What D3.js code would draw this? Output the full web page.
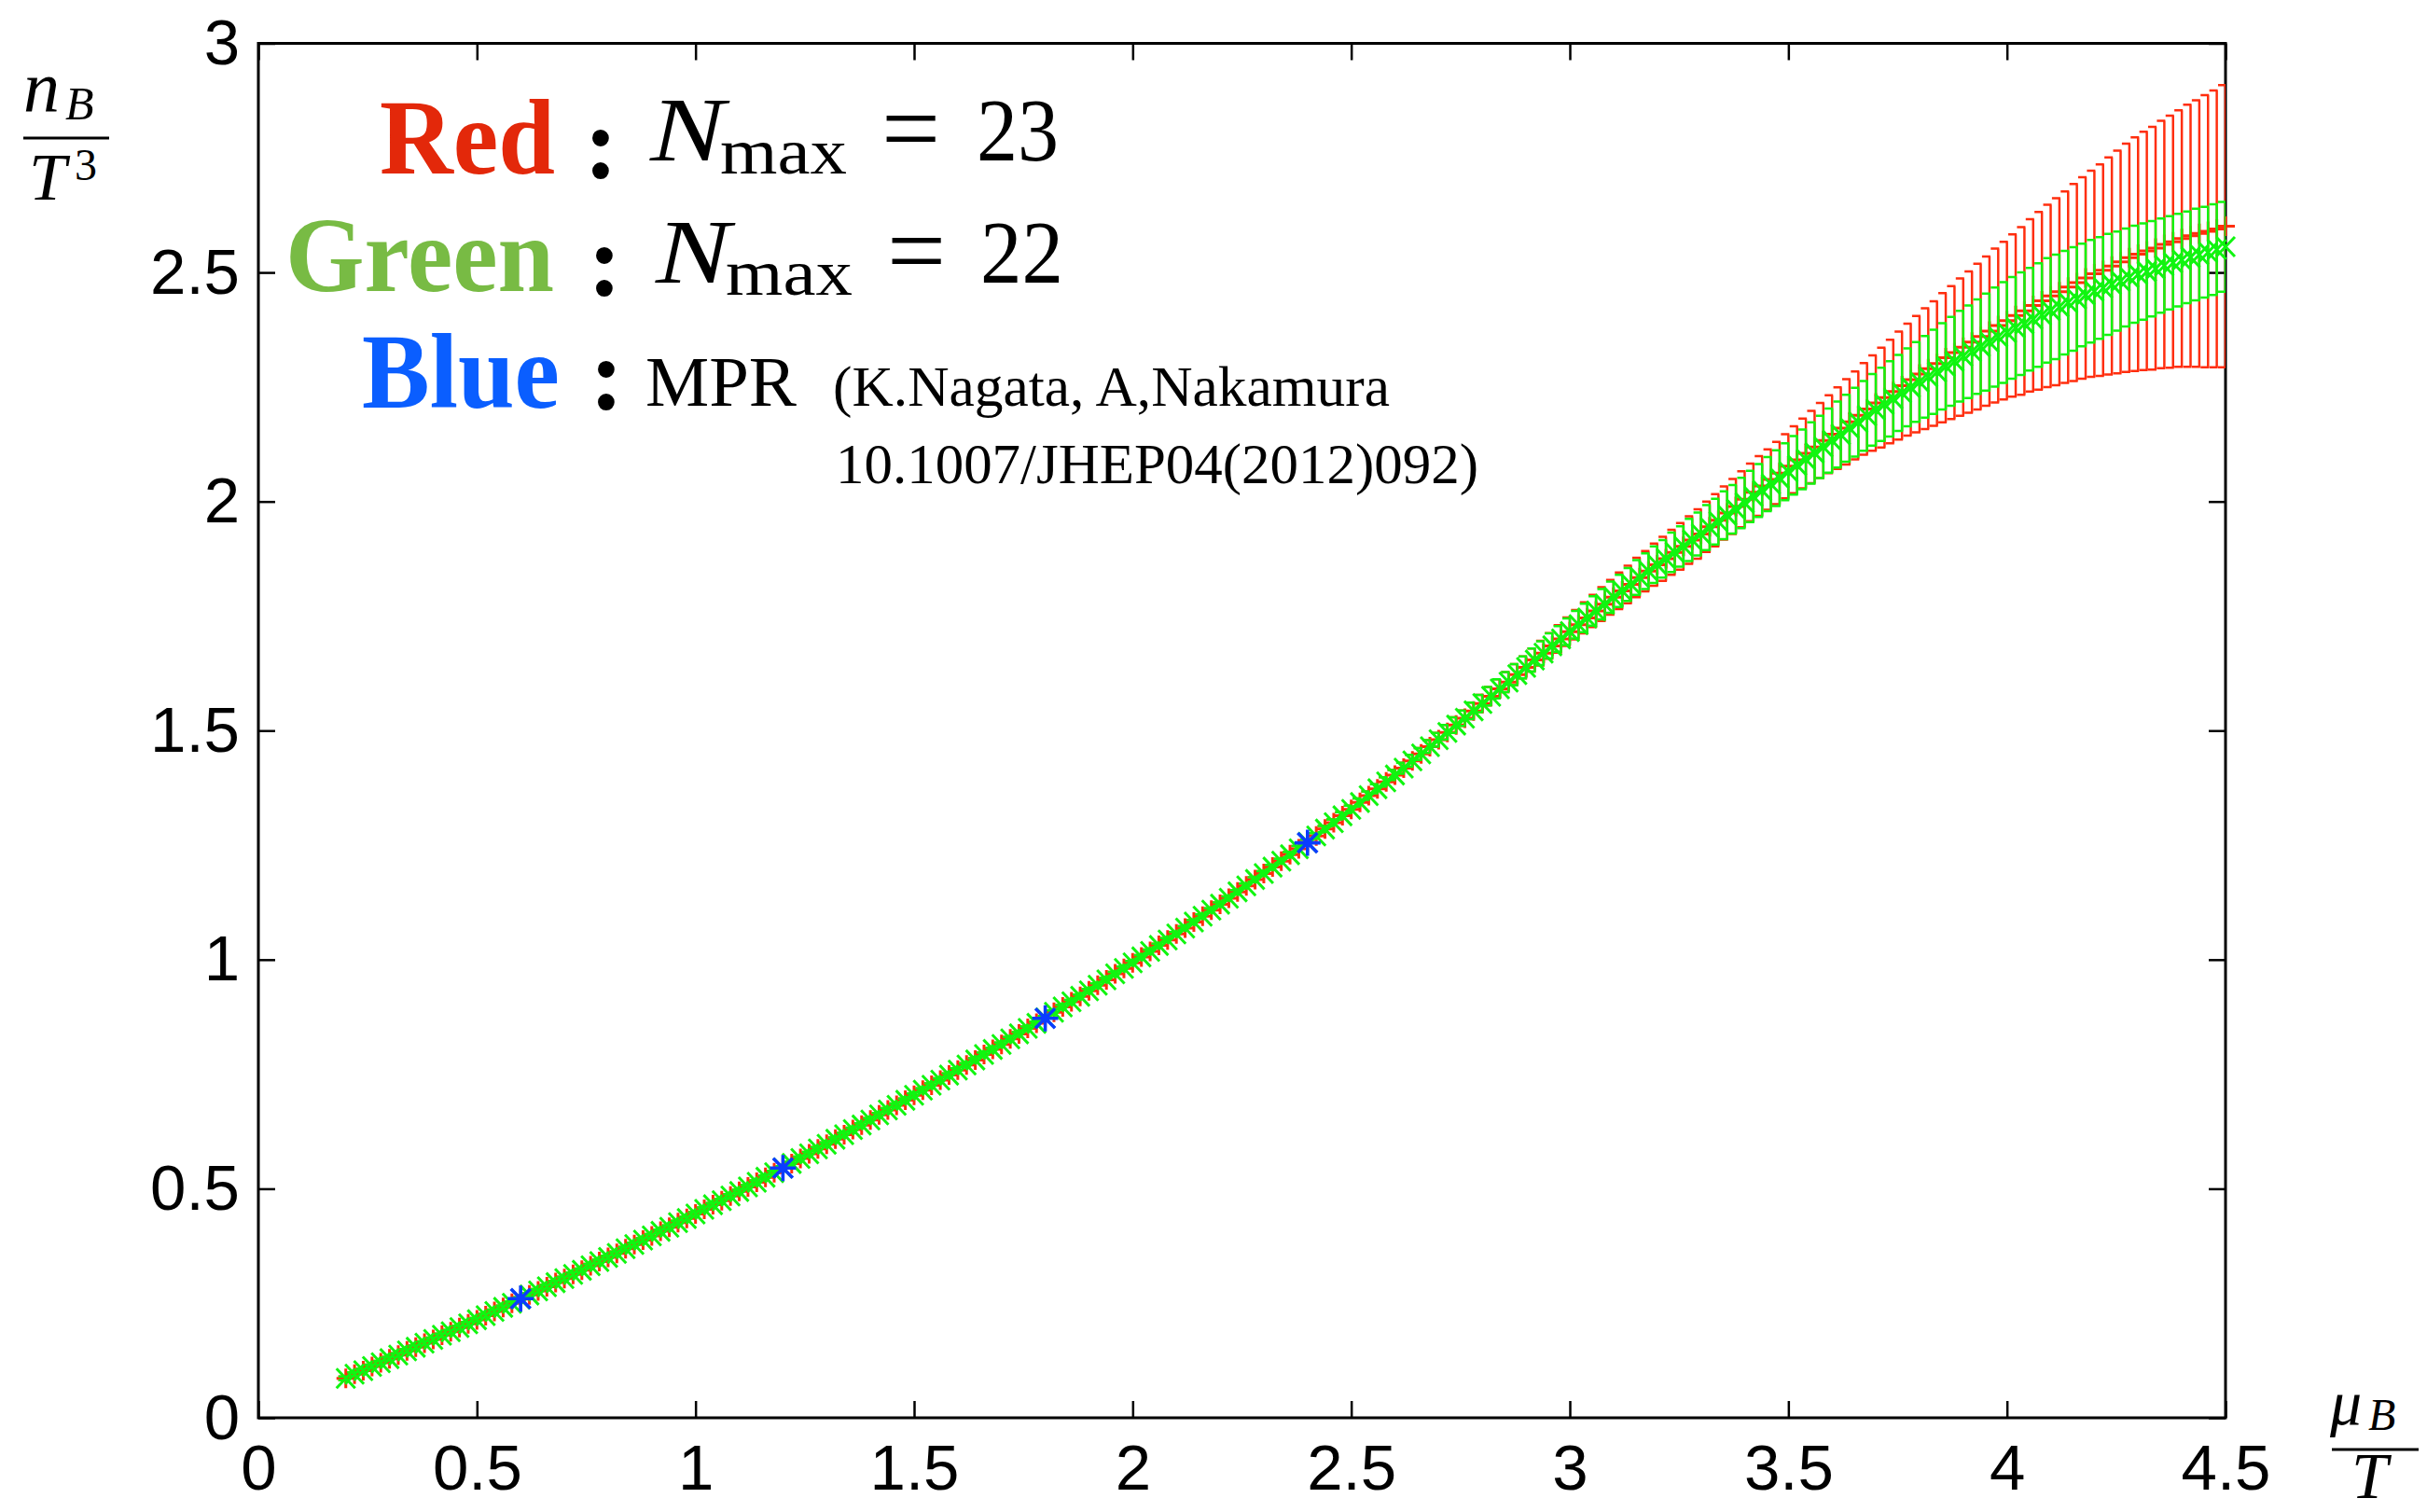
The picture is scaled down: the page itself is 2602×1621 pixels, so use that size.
<!DOCTYPE html>
<html lang="en">
<head>
    <meta charset="UTF-8">
    <title>Baryon number density vs mu_B/T</title>
    <script src="https://d3js.org/d3.v7.min.js"></script>
    <style>
        body {
            margin: 0;
            background-color: #ffffff;
        }

        svg {
            display: block;
        }

        .tick-label text {
            font-family: "Liberation Sans", Arial, Helvetica, sans-serif;
            font-size: 69px;
            fill: #000;
        }

        .serif {
            font-family: "Liberation Serif", "Times New Roman", serif;
        }
    </style>
</head>
<body>
<svg width="2602" height="1621"></svg>
<script>
    // mu_B / T grid of the Taylor-expansion results
    const mu = [
        0.20, 0.22, 0.24, 0.26, 0.28, 0.30, 0.32, 0.34, 0.36, 0.38,
        0.40, 0.42, 0.44, 0.46, 0.48, 0.50, 0.52, 0.54, 0.56, 0.58,
        0.60, 0.62, 0.64, 0.66, 0.68, 0.70, 0.72, 0.74, 0.76, 0.78,
        0.80, 0.82, 0.84, 0.86, 0.88, 0.90, 0.92, 0.94, 0.96, 0.98,
        1.00, 1.02, 1.04, 1.06, 1.08, 1.10, 1.12, 1.14, 1.16, 1.18,
        1.20, 1.22, 1.24, 1.26, 1.28, 1.30, 1.32, 1.34, 1.36, 1.38,
        1.40, 1.42, 1.44, 1.46, 1.48, 1.50, 1.52, 1.54, 1.56, 1.58,
        1.60, 1.62, 1.64, 1.66, 1.68, 1.70, 1.72, 1.74, 1.76, 1.78,
        1.80, 1.82, 1.84, 1.86, 1.88, 1.90, 1.92, 1.94, 1.96, 1.98,
        2.00, 2.02, 2.04, 2.06, 2.08, 2.10, 2.12, 2.14, 2.16, 2.18,
        2.20, 2.22, 2.24, 2.26, 2.28, 2.30, 2.32, 2.34, 2.36, 2.38,
        2.40, 2.42, 2.44, 2.46, 2.48, 2.50, 2.52, 2.54, 2.56, 2.58,
        2.60, 2.62, 2.64, 2.66, 2.68, 2.70, 2.72, 2.74, 2.76, 2.78,
        2.80, 2.82, 2.84, 2.86, 2.88, 2.90, 2.92, 2.94, 2.96, 2.98,
        3.00, 3.02, 3.04, 3.06, 3.08, 3.10, 3.12, 3.14, 3.16, 3.18,
        3.20, 3.22, 3.24, 3.26, 3.28, 3.30, 3.32, 3.34, 3.36, 3.38,
        3.40, 3.42, 3.44, 3.46, 3.48, 3.50, 3.52, 3.54, 3.56, 3.58,
        3.60, 3.62, 3.64, 3.66, 3.68, 3.70, 3.72, 3.74, 3.76, 3.78,
        3.80, 3.82, 3.84, 3.86, 3.88, 3.90, 3.92, 3.94, 3.96, 3.98,
        4.00, 4.02, 4.04, 4.06, 4.08, 4.10, 4.12, 4.14, 4.16, 4.18,
        4.20, 4.22, 4.24, 4.26, 4.28, 4.30, 4.32, 4.34, 4.36, 4.38,
        4.40, 4.42, 4.44, 4.46, 4.48, 4.50
    ];

    // Red: N_max = 23
    const redVals = [
        0.086, 0.095, 0.103, 0.112, 0.120, 0.129, 0.137, 0.146, 0.154, 0.163,
        0.171, 0.180, 0.188, 0.197, 0.205, 0.214, 0.223, 0.232, 0.241, 0.250,
        0.259, 0.268, 0.277, 0.286, 0.295, 0.304, 0.313, 0.322, 0.332, 0.341,
        0.350, 0.359, 0.369, 0.378, 0.388, 0.397, 0.407, 0.416, 0.426, 0.435,
        0.445, 0.455, 0.465, 0.474, 0.484, 0.494, 0.504, 0.514, 0.525, 0.535,
        0.545, 0.555, 0.566, 0.576, 0.587, 0.597, 0.608, 0.618, 0.629, 0.639,
        0.650, 0.661, 0.672, 0.682, 0.693, 0.704, 0.715, 0.726, 0.737, 0.748,
        0.759, 0.770, 0.781, 0.793, 0.804, 0.815, 0.827, 0.838, 0.850, 0.861,
        0.873, 0.885, 0.897, 0.908, 0.920, 0.932, 0.944, 0.956, 0.969, 0.981,
        0.993, 1.006, 1.018, 1.031, 1.043, 1.056, 1.069, 1.082, 1.095, 1.108,
        1.121, 1.134, 1.148, 1.161, 1.175, 1.188, 1.202, 1.215, 1.229, 1.242,
        1.256, 1.270, 1.285, 1.299, 1.314, 1.328, 1.343, 1.358, 1.373, 1.388,
        1.403, 1.418, 1.434, 1.449, 1.465, 1.480, 1.496, 1.512, 1.527, 1.543,
        1.559, 1.575, 1.591, 1.606, 1.622, 1.638, 1.654, 1.669, 1.685, 1.700,
        1.716, 1.731, 1.746, 1.761, 1.776, 1.791, 1.805, 1.819, 1.834, 1.848,
        1.862, 1.875, 1.889, 1.902, 1.916, 1.929, 1.945, 1.959, 1.975, 1.989,
        2.005, 2.020, 2.034, 2.048, 2.062, 2.077, 2.091, 2.105, 2.119, 2.133,
        2.147, 2.160, 2.174, 2.188, 2.202, 2.215, 2.227, 2.240, 2.253, 2.266,
        2.278, 2.290, 2.301, 2.314, 2.325, 2.337, 2.348, 2.360, 2.372, 2.384,
        2.395, 2.406, 2.416, 2.428, 2.438, 2.449, 2.458, 2.468, 2.478, 2.488,
        2.497, 2.505, 2.514, 2.523, 2.532, 2.540, 2.547, 2.553, 2.561, 2.567,
        2.574, 2.580, 2.585, 2.590, 2.595, 2.601
    ];
    const redErr = [
        0.004, 0.004, 0.004, 0.004, 0.004, 0.004, 0.004, 0.004, 0.004, 0.004,
        0.004, 0.004, 0.004, 0.004, 0.004, 0.004, 0.004, 0.004, 0.004, 0.004,
        0.004, 0.004, 0.004, 0.004, 0.004, 0.004, 0.004, 0.004, 0.004, 0.004,
        0.004, 0.004, 0.004, 0.004, 0.004, 0.004, 0.004, 0.004, 0.004, 0.004,
        0.004, 0.004, 0.004, 0.004, 0.004, 0.004, 0.004, 0.004, 0.004, 0.004,
        0.004, 0.004, 0.004, 0.004, 0.004, 0.004, 0.004, 0.004, 0.004, 0.004,
        0.004, 0.004, 0.004, 0.004, 0.004, 0.004, 0.004, 0.004, 0.004, 0.004,
        0.004, 0.004, 0.004, 0.004, 0.004, 0.004, 0.004, 0.004, 0.004, 0.004,
        0.004, 0.004, 0.004, 0.004, 0.004, 0.004, 0.004, 0.004, 0.004, 0.004,
        0.004, 0.004, 0.004, 0.004, 0.004, 0.004, 0.004, 0.004, 0.004, 0.004,
        0.004, 0.004, 0.004, 0.005, 0.005, 0.005, 0.005, 0.005, 0.006, 0.006,
        0.006, 0.006, 0.007, 0.007, 0.008, 0.008, 0.009, 0.009, 0.010, 0.010,
        0.011, 0.012, 0.013, 0.013, 0.014, 0.015, 0.016, 0.017, 0.017, 0.018,
        0.019, 0.020, 0.021, 0.022, 0.023, 0.024, 0.025, 0.027, 0.028, 0.030,
        0.031, 0.032, 0.034, 0.035, 0.037, 0.038, 0.040, 0.041, 0.043, 0.044,
        0.046, 0.048, 0.049, 0.051, 0.052, 0.054, 0.055, 0.057, 0.058, 0.060,
        0.061, 0.063, 0.065, 0.066, 0.068, 0.070, 0.073, 0.076, 0.079, 0.082,
        0.085, 0.089, 0.093, 0.096, 0.100, 0.104, 0.109, 0.113, 0.118, 0.122,
        0.127, 0.132, 0.136, 0.141, 0.145, 0.150, 0.154, 0.159, 0.163, 0.168,
        0.172, 0.177, 0.183, 0.188, 0.194, 0.199, 0.204, 0.209, 0.215, 0.220,
        0.225, 0.231, 0.237, 0.243, 0.249, 0.255, 0.260, 0.265, 0.270, 0.275,
        0.280, 0.286, 0.291, 0.297, 0.302, 0.308
    ];

    // Green: N_max = 22
    const greenVals = [
        0.086, 0.095, 0.103, 0.112, 0.120, 0.129, 0.137, 0.146, 0.154, 0.163,
        0.171, 0.180, 0.188, 0.197, 0.205, 0.214, 0.223, 0.232, 0.241, 0.250,
        0.259, 0.268, 0.277, 0.286, 0.295, 0.304, 0.313, 0.322, 0.332, 0.341,
        0.350, 0.359, 0.369, 0.378, 0.388, 0.397, 0.407, 0.416, 0.426, 0.435,
        0.445, 0.455, 0.465, 0.474, 0.484, 0.494, 0.504, 0.514, 0.525, 0.535,
        0.545, 0.555, 0.566, 0.576, 0.587, 0.597, 0.608, 0.618, 0.629, 0.639,
        0.650, 0.661, 0.672, 0.682, 0.693, 0.704, 0.715, 0.726, 0.737, 0.748,
        0.759, 0.770, 0.781, 0.793, 0.804, 0.815, 0.827, 0.838, 0.850, 0.861,
        0.873, 0.885, 0.897, 0.908, 0.920, 0.932, 0.944, 0.956, 0.969, 0.981,
        0.993, 1.006, 1.018, 1.031, 1.043, 1.056, 1.069, 1.082, 1.095, 1.108,
        1.121, 1.134, 1.148, 1.161, 1.175, 1.188, 1.202, 1.215, 1.229, 1.242,
        1.256, 1.270, 1.285, 1.299, 1.314, 1.328, 1.343, 1.358, 1.373, 1.388,
        1.403, 1.418, 1.434, 1.449, 1.465, 1.480, 1.496, 1.512, 1.527, 1.543,
        1.559, 1.575, 1.591, 1.606, 1.622, 1.638, 1.654, 1.669, 1.685, 1.700,
        1.716, 1.731, 1.746, 1.761, 1.776, 1.791, 1.805, 1.819, 1.834, 1.848,
        1.862, 1.875, 1.889, 1.902, 1.916, 1.929, 1.943, 1.956, 1.970, 1.983,
        1.997, 2.011, 2.024, 2.038, 2.051, 2.065, 2.079, 2.092, 2.106, 2.119,
        2.133, 2.146, 2.160, 2.173, 2.187, 2.200, 2.212, 2.224, 2.237, 2.249,
        2.261, 2.272, 2.283, 2.295, 2.306, 2.317, 2.327, 2.338, 2.348, 2.359,
        2.369, 2.379, 2.388, 2.398, 2.407, 2.417, 2.425, 2.434, 2.442, 2.451,
        2.459, 2.466, 2.474, 2.481, 2.489, 2.496, 2.502, 2.508, 2.515, 2.521,
        2.527, 2.533, 2.539, 2.544, 2.550, 2.556
    ];
    const greenErr = [
        0.004, 0.004, 0.004, 0.004, 0.004, 0.004, 0.004, 0.004, 0.004, 0.004,
        0.004, 0.004, 0.004, 0.004, 0.004, 0.004, 0.004, 0.004, 0.004, 0.004,
        0.004, 0.004, 0.004, 0.004, 0.004, 0.004, 0.004, 0.004, 0.004, 0.004,
        0.004, 0.004, 0.004, 0.004, 0.004, 0.004, 0.004, 0.004, 0.004, 0.004,
        0.004, 0.004, 0.004, 0.004, 0.004, 0.004, 0.004, 0.004, 0.004, 0.004,
        0.004, 0.004, 0.004, 0.004, 0.004, 0.004, 0.004, 0.004, 0.004, 0.004,
        0.004, 0.004, 0.004, 0.004, 0.004, 0.004, 0.004, 0.004, 0.004, 0.004,
        0.004, 0.004, 0.004, 0.004, 0.004, 0.004, 0.004, 0.004, 0.004, 0.004,
        0.004, 0.004, 0.004, 0.004, 0.004, 0.004, 0.004, 0.004, 0.004, 0.004,
        0.004, 0.004, 0.004, 0.004, 0.004, 0.004, 0.004, 0.004, 0.004, 0.004,
        0.004, 0.004, 0.004, 0.005, 0.005, 0.005, 0.005, 0.005, 0.006, 0.006,
        0.006, 0.006, 0.007, 0.007, 0.008, 0.008, 0.009, 0.009, 0.010, 0.010,
        0.011, 0.012, 0.013, 0.013, 0.014, 0.015, 0.016, 0.017, 0.017, 0.018,
        0.019, 0.020, 0.021, 0.022, 0.023, 0.024, 0.025, 0.026, 0.027, 0.028,
        0.029, 0.030, 0.031, 0.032, 0.033, 0.034, 0.035, 0.036, 0.038, 0.039,
        0.040, 0.041, 0.043, 0.044, 0.046, 0.047, 0.049, 0.050, 0.052, 0.053,
        0.055, 0.056, 0.058, 0.059, 0.061, 0.062, 0.064, 0.065, 0.067, 0.068,
        0.070, 0.072, 0.073, 0.075, 0.076, 0.078, 0.080, 0.082, 0.083, 0.085,
        0.087, 0.089, 0.092, 0.094, 0.097, 0.099, 0.101, 0.103, 0.106, 0.108,
        0.110, 0.111, 0.112, 0.112, 0.113, 0.114, 0.114, 0.113, 0.113, 0.112,
        0.112, 0.111, 0.110, 0.108, 0.107, 0.106, 0.105, 0.104, 0.103, 0.102,
        0.101, 0.100, 0.100, 0.099, 0.099, 0.098
    ];

    // Blue: MPR points
    const blueMu = [0.6, 1.2, 1.8, 2.4];
    const blueVals = [0.260, 0.545, 0.872, 1.255];

    const xTicks = [0, 0.5, 1, 1.5, 2, 2.5, 3, 3.5, 4, 4.5];
    const xTickLabels = ["0", "0.5", "1", "1.5", "2", "2.5", "3", "3.5", "4", "4.5"];
    const yTicks = [0, 0.5, 1, 1.5, 2, 2.5, 3];
    const yTickLabels = ["0", "0.5", "1", "1.5", "2", "2.5", "3"];

    const svg = d3.select("svg"),
        W = +svg.attr("width"),
        H = +svg.attr("height"),
        margin = {top: 46.5, right: 216, bottom: 101, left: 277};

    const x = d3.scaleLinear().domain([0, 4.5]).range([margin.left, W - margin.right]),
        y = d3.scaleLinear().domain([0, 3]).range([H - margin.bottom, margin.top]);

    svg.append("defs").append("clipPath")
        .attr("id", "plot-clip")
        .append("rect")
        .attr("x", x(0))
        .attr("y", y(3))
        .attr("width", x(4.5) - x(0))
        .attr("height", y(0) - y(3));

    // axes box and inward ticks on all four sides
    svg.append("rect")
        .attr("x", x(0))
        .attr("y", y(3))
        .attr("width", x(4.5) - x(0))
        .attr("height", y(0) - y(3))
        .attr("fill", "none")
        .attr("stroke", "#000")
        .attr("stroke-width", 3);

    function styleAxis(g) {
        g.select(".domain").remove();
        g.selectAll(".tick line").attr("stroke", "#000").attr("stroke-width", 2.5);
        g.attr("font-size", null).attr("font-family", null);
    }

    svg.append("g")
        .attr("class", "tick-label")
        .attr("transform", `translate(0,${y(0)})`)
        .call(d3.axisBottom(x).tickValues(xTicks).tickSizeInner(-18).tickSizeOuter(0)
            .tickPadding(28).tickFormat((d, i) => xTickLabels[i]))
        .call(styleAxis);

    svg.append("g")
        .attr("transform", `translate(0,${y(3)})`)
        .call(d3.axisTop(x).tickValues(xTicks).tickSizeInner(-18).tickSizeOuter(0).tickFormat(""))
        .call(styleAxis);

    svg.append("g")
        .attr("class", "tick-label")
        .attr("transform", `translate(${x(0)},0)`)
        .call(d3.axisLeft(y).tickValues(yTicks).tickSizeInner(-18).tickSizeOuter(0)
            .tickPadding(20).tickFormat((d, i) => yTickLabels[i]))
        .call(styleAxis);

    svg.append("g")
        .attr("transform", `translate(${x(4.5)},0)`)
        .call(d3.axisRight(y).tickValues(yTicks).tickSizeInner(-18).tickSizeOuter(0).tickFormat(""))
        .call(styleAxis);

    // marker shapes
    const plusMark = "M-10,0H10M0,-10.5V10.5";
    const crossMark = "M-10,-10.5L10,10.5M-10,10.5L10,-10.5";
    const starMark = "M-14,0H14M0,-14V14M-10.5,-10.5L10.5,10.5M-10.5,10.5L10.5,-10.5";

    function drawSeries(vals, errs, color, marker) {
        const pts = mu.map((m, i) => ({m: m, v: vals[i], e: errs[i]}));
        const g = svg.append("g").attr("fill", "none").attr("stroke", color);

        g.append("g")
            .attr("clip-path", "url(#plot-clip)")
            .selectAll("path")
            .data(pts)
            .join("path")
            .attr("stroke-width", 2.5)
            .attr("d", d => {
                const cx = x(d.m), top = y(d.v + d.e), bot = y(d.v - d.e);
                return `M${cx},${top}V${bot}M${cx - 8},${top}H${cx + 1}M${cx - 8},${bot}H${cx + 1}`;
            });

        g.append("g")
            .selectAll("path")
            .data(pts)
            .join("path")
            .attr("stroke-width", 3)
            .attr("transform", d => `translate(${x(d.m)},${y(d.v)})`)
            .attr("d", marker);
    }

    drawSeries(redVals, redErr, "#ff2e0e", plusMark);
    drawSeries(greenVals, greenErr, "#10f510", crossMark);

    svg.append("g")
        .attr("fill", "none")
        .attr("stroke", "#0b3cff")
        .attr("stroke-width", 3.6)
        .selectAll("path")
        .data(blueMu.map((m, i) => ({m: m, v: blueVals[i]})))
        .join("path")
        .attr("transform", d => `translate(${x(d.m)},${y(d.v)})`)
        .attr("d", starMark);

    // text helper
    function label(g, txt, px, py, size, italic, extra) {
        const t = g.append("text")
            .attr("class", "serif")
            .attr("x", px)
            .attr("y", py)
            .attr("fill", "#000")
            .attr("font-size", size)
            .attr("font-style", italic ? "italic" : "normal")
            .text(txt);
        if (extra) extra(t);
        return t;
    }

    // axis labels (fractions)
    const lab = svg.append("g");
    label(lab, "n", 25, 120, 78, true);
    label(lab, "B", 70, 128, 50, true);
    lab.append("line").attr("x1", 25).attr("x2", 117).attr("y1", 148).attr("y2", 148)
        .attr("stroke", "#000").attr("stroke-width", 3);
    label(lab, "T", 31, 214, 72, true);
    label(lab, "3", 80, 193, 48, false);

    label(lab, "\u03bc", 2498, 1527, 68, true);
    label(lab, "B", 2539, 1533, 48, true);
    lab.append("line").attr("x1", 2500).attr("x2", 2593).attr("y1", 1554).attr("y2", 1554)
        .attr("stroke", "#000").attr("stroke-width", 3);
    label(lab, "T", 2521, 1606, 70, true);

    // legend text
    const leg = svg.append("g");
    const stretch = (w) => (t => t.attr("textLength", w).attr("lengthAdjust", "spacingAndGlyphs"));
    const word = (col, w) => (t => stretch(w)(t).attr("font-weight", "bold").attr("fill", col));

    label(leg, "Red", 407, 186, 114, false, word("#e3280a", 188));
    label(leg, "Green", 306, 312, 114, false, word("#78bb44", 288));
    label(leg, "Blue", 388, 437, 114, false, word("#0a5eff", 212));

    label(leg, ":", 626, 190, 110, false, t => t.attr("font-weight", "bold"));
    label(leg, ":", 630, 316, 110, false, t => t.attr("font-weight", "bold"));
    label(leg, ":", 632, 438, 110, false, t => t.attr("font-weight", "bold"));

    label(leg, "N", 697, 172, 98, true, stretch(80));
    label(leg, "max", 772, 186, 70, false, stretch(136));
    label(leg, "=", 945, 175, 112, false);
    label(leg, "23", 1047, 172, 96, false, stretch(88));

    label(leg, "N", 703, 303, 98, true, stretch(80));
    label(leg, "max", 778, 316, 70, false, stretch(136));
    label(leg, "=", 951, 306, 112, false);
    label(leg, "22", 1051, 303, 96, false, stretch(89));

    label(leg, "MPR", 692, 435, 77, false, stretch(162));
    label(leg, "(K.Nagata, A,Nakamura", 893, 435, 61, false, stretch(597));
    label(leg, "10.1007/JHEP04(2012)092)", 896, 518, 61, false, stretch(689));
</script>
</body>
</html>
